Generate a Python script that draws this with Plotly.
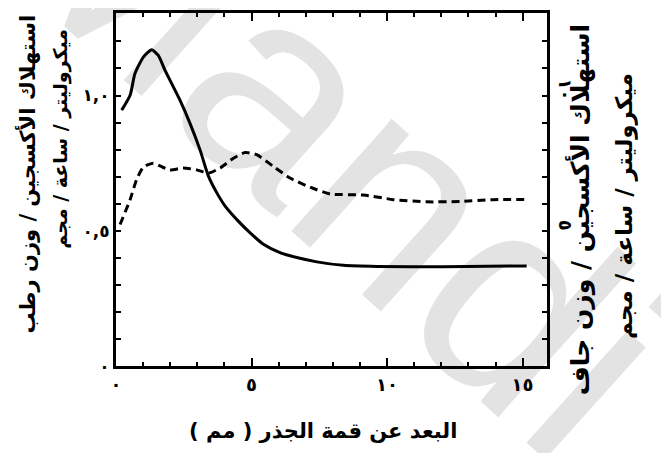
import plotly.graph_objects as go

# ---- data ----
fresh_x = [0.21, 0.52, 0.70, 1.01, 1.32, 1.56, 1.81, 2.36, 2.73, 3.10, 3.41, 3.72, 4.02,
           4.45, 4.94, 5.44, 6.05, 6.67, 7.41, 8.39, 9.62, 12.07, 15.15]
fresh_y = [0.946, 1.001, 1.081, 1.142, 1.169, 1.148, 1.093, 0.983, 0.897, 0.799, 0.702,
           0.640, 0.592, 0.542, 0.493, 0.450, 0.419, 0.401, 0.385, 0.372, 0.368, 0.367, 0.370]

dry_x = [0.15, 0.52, 0.76, 1.01, 1.38, 1.62, 1.99, 2.48, 2.98, 3.41, 3.84, 4.33, 4.76,
         5.19, 5.80, 6.42, 7.16, 7.90, 9.13, 10.24, 11.46, 12.69, 13.92, 15.15]
dry_y = [5.23, 6.15, 6.89, 7.35, 7.50, 7.40, 7.25, 7.32, 7.25, 7.13, 7.32, 7.68, 7.89,
         7.81, 7.38, 6.95, 6.61, 6.36, 6.32, 6.15, 6.07, 6.08, 6.15, 6.15]

x_major = [0, 5, 10, 15]
x_major_text = ["٠", "٥", "١٠", "١٥"]
x_minor = [1, 2, 3, 4, 6, 7, 8, 9, 11, 12, 13, 14]

y_ticks = [0.0, 0.1, 0.2, 0.3, 0.4, 0.5, 0.6, 0.7, 0.8, 0.9, 1.0, 1.1, 1.2]
y_text = ["٠", "", "", "", "", "٠,٥", "", "", "", "", "١,٠", "", ""]

y2_ticks = [0, 1, 2, 3, 4, 5, 6, 7, 8, 9, 10, 11, 12]
y2_label_vals = [5, 10]
y2_label_text = ["٥", "١٠"]

x_title = "البعد عن قمة الجذر ( مم )"
left_title_1 = "استهلاك الأكسجين / وزن رطب"
left_title_2 = "ميكروليتر / ساعة / مجم"
right_title_1 = "استهلاك الأكسجين / وزن جاف"
right_title_2 = "ميكروليتر / ساعة / مجم"
watermark = "Mandi"

FONT = "DejaVu Sans"

fig = go.Figure()
fig.add_trace(go.Scatter(x=fresh_x, y=fresh_y, mode="lines",
                         line=dict(color="black", width=3, shape="spline", smoothing=0.6),
                         showlegend=False, yaxis="y"))
fig.add_trace(go.Scatter(x=dry_x, y=dry_y, mode="lines",
                         line=dict(color="black", width=3, dash="8px,5px", shape="spline", smoothing=0.6),
                         showlegend=False, yaxis="y2"))

# page body has an 8px default margin, so the figure is 8px smaller and margins shifted
fig.update_layout(
    width=661, height=445,
    margin=dict(l=108, r=122, t=2, b=87),
    paper_bgcolor="white", plot_bgcolor="white",
    font=dict(family=FONT, color="black"),
    xaxis=dict(range=[0, 15.9], showgrid=False, zeroline=False,
               showline=True, linecolor="black", linewidth=3, mirror="ticks",
               ticks="inside", ticklen=8, tickwidth=2, tickcolor="black",
               tickmode="array", tickvals=x_major, ticktext=x_major_text,
               tickfont=dict(size=18, family=FONT, weight="bold"),
               minor=dict(tickmode="array", tickvals=x_minor, ticks="inside",
                          ticklen=4, tickwidth=2, tickcolor="black")),
    yaxis=dict(range=[0, 1.305], showgrid=False, zeroline=False,
               showline=True, linecolor="black", linewidth=3,
               ticks="inside", ticklen=5, tickwidth=2, tickcolor="black",
               tickmode="array", tickvals=y_ticks, ticktext=y_text,
               tickfont=dict(size=17, family=FONT, weight="bold")),
    yaxis2=dict(range=[0, 13.05], overlaying="y", side="right", showgrid=False, zeroline=False,
                showline=True, linecolor="black", linewidth=3,
                ticks="inside", ticklen=5, tickwidth=2, tickcolor="black",
                tickmode="array", tickvals=y2_ticks, showticklabels=False),
)

# right-axis labels (written rotated, as in the reference)
for v, t in zip(y2_label_vals, y2_label_text):
    fig.add_annotation(text=t, xref="paper", yref="y2", x=1.042, y=v, yshift=6,
                       xanchor="center", yanchor="middle", textangle=90, showarrow=False,
                       font=dict(size=18, family=FONT, weight="bold", color="black"))

# light watermark: translucent black, so the black curves stay black where it crosses them
fig.add_annotation(text=watermark, xref="paper", yref="paper", x=0.513, y=0.643,
                   xanchor="center", yanchor="middle", textangle=42, showarrow=False,
                   font=dict(size=285, family="Liberation Sans", color="rgba(0,0,0,0.11)"))

tf = dict(family=FONT, color="black", size=21, weight="bold")
fig.add_annotation(text=x_title, xref="paper", yref="paper", x=0.48, y=-0.185,
                   xanchor="center", yanchor="middle", showarrow=False, font=tf)
fig.add_annotation(text=left_title_1, xref="paper", yref="paper", x=-0.207, y=0.545,
                   xanchor="center", yanchor="middle", textangle=-90, showarrow=False, font=tf)
fig.add_annotation(text=left_title_2, xref="paper", yref="paper", x=-0.129, y=0.645,
                   xanchor="center", yanchor="middle", textangle=-90, showarrow=False,
                   font=dict(tf, size=19))
fig.add_annotation(text=right_title_1, xref="paper", yref="paper", x=1.078, y=0.443,
                   xanchor="center", yanchor="middle", textangle=-90, showarrow=False,
                   font=dict(tf, size=25))
fig.add_annotation(text=right_title_2, xref="paper", yref="paper", x=1.18, y=0.452,
                   xanchor="center", yanchor="middle", textangle=-90, showarrow=False,
                   font=dict(tf, size=23))

fig.write_html("out.html")
